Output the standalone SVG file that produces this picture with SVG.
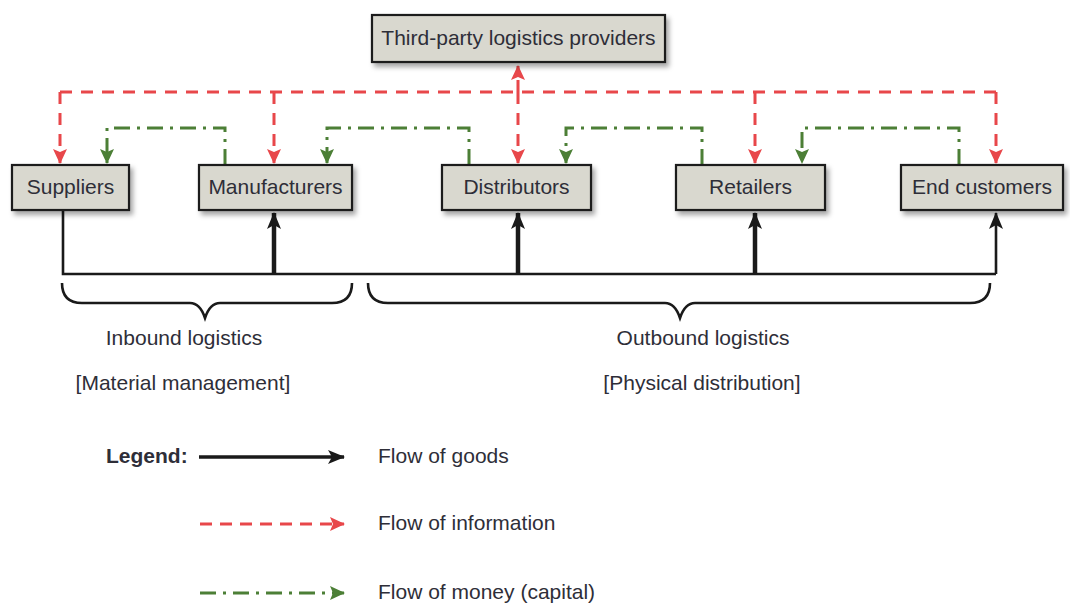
<svg xmlns="http://www.w3.org/2000/svg" width="1070" height="605" viewBox="0 0 1070 605">
<style>
.box{fill:#d9d8cf;stroke:#1e1e1e;stroke-width:2.2}
.t{font-family:"Liberation Sans",Arial,sans-serif;font-size:21px;fill:#2e2e38}
.nt{text-anchor:middle}
.red{fill:none;stroke:#e8474a;stroke-width:3;stroke-dasharray:12 9}
.grn{fill:none;stroke:#4c7f36;stroke-width:3;stroke-dasharray:16 7 3 7}
.blk{fill:none;stroke:#1a1a1a;stroke-width:2.6}
.blkT{fill:none;stroke:#1a1a1a;stroke-width:4.5}
.brace{fill:none;stroke:#1a1a1a;stroke-width:2.6}
</style>
<defs>
<filter id="sh" x="-10%" y="-20%" width="130%" height="160%">
<feDropShadow dx="3" dy="4" stdDeviation="2.5" flood-color="#000" flood-opacity="0.35"/>
</filter>
<marker id="ar" markerUnits="userSpaceOnUse" markerWidth="16" markerHeight="16" refX="14" refY="7" orient="auto">
<path d="M0,0 L15,7 L0,14 L3,7 Z" fill="#e8474a"/>
</marker>
<marker id="ag" markerUnits="userSpaceOnUse" markerWidth="16" markerHeight="16" refX="14" refY="7" orient="auto">
<path d="M0,0 L15,7 L0,14 L3,7 Z" fill="#4c7f36"/>
</marker>
<marker id="ab" markerUnits="userSpaceOnUse" markerWidth="18" markerHeight="16" refX="16" refY="7" orient="auto">
<path d="M0,0 L17,7 L0,14 L4,7 Z" fill="#1a1a1a"/>
</marker>
</defs>
<rect width="1070" height="605" fill="#ffffff"/>

<g id="connectors">
<path class="red" d="M60,92 H996"/>
<path class="red" d="M60,92 V163" marker-end="url(#ar)"/>
<path class="red" d="M274,92 V163" marker-end="url(#ar)"/>
<path class="red" d="M518,92 V163" marker-end="url(#ar)"/>
<path class="red" d="M518,92 V66" marker-end="url(#ar)"/>
<path class="red" d="M755,92 V163" marker-end="url(#ar)"/>
<path class="red" d="M996,92 V163" marker-end="url(#ar)"/>
<path class="grn" d="M225,165 V128 H107 V163" marker-end="url(#ag)"/>
<path class="grn" d="M469,165 V128 H327 V163" marker-end="url(#ag)"/>
<path class="grn" d="M702,165 V128 H566 V163" marker-end="url(#ag)"/>
<path class="grn" d="M959,165 V128 H802 V163" marker-end="url(#ag)"/>
<path class="blk" d="M63,211 V274 H996"/>
<path class="blkT" d="M274,274 V213" marker-end="url(#ab)"/>
<path class="blkT" d="M518,274 V213" marker-end="url(#ab)"/>
<path class="blkT" d="M755,274 V213" marker-end="url(#ab)"/>
<path class="blk" d="M996,274 V213" marker-end="url(#ab)"/>
</g>

<g id="tpl">
<rect class="box" filter="url(#sh)" x="372" y="15" width="293" height="47"/>
<text class="t nt" x="518.5" y="45">Third-party logistics providers</text>
</g>
<g id="suppliers">
<rect class="box" filter="url(#sh)" x="12" y="165" width="117" height="45"/>
<text class="t nt" x="70.5" y="194">Suppliers</text>
</g>
<g id="manufacturers">
<rect class="box" filter="url(#sh)" x="199" y="165" width="153" height="45"/>
<text class="t nt" x="275.5" y="194">Manufacturers</text>
</g>
<g id="distributors">
<rect class="box" filter="url(#sh)" x="442" y="165" width="149" height="45"/>
<text class="t nt" x="516.5" y="194">Distributors</text>
</g>
<g id="retailers">
<rect class="box" filter="url(#sh)" x="676" y="165" width="149" height="45"/>
<text class="t nt" x="750.5" y="194">Retailers</text>
</g>
<g id="endcustomers">
<rect class="box" filter="url(#sh)" x="901" y="165" width="162" height="45"/>
<text class="t nt" x="982" y="194">End customers</text>
</g>

<g id="inbound">
<path class="brace" d="M62,283 Q62,303 82,303 H190 Q200,303 205,318 Q210,303 220,303 H332 Q352,303 352,283"/>
<text class="t nt" x="184" y="345">Inbound logistics</text>
<text class="t nt" x="183" y="390">[Material management]</text>
</g>
<g id="outbound">
<path class="brace" d="M368,283 Q368,303 388,303 H665 Q675,303 680,318 Q685,303 695,303 H970 Q990,303 990,283"/>
<text class="t nt" x="703" y="345">Outbound logistics</text>
<text class="t nt" x="702" y="390">[Physical distribution]</text>
</g>

<g id="legend">
<text class="t" x="106" y="463" font-weight="bold">Legend:</text>
<path d="M199,457 H344" fill="none" stroke="#1a1a1a" stroke-width="3.5" marker-end="url(#ab)"/>
<text class="t" x="378" y="463">Flow of goods</text>
<path d="M200,524 H344" fill="none" stroke="#e8474a" stroke-width="3" stroke-dasharray="12 8" marker-end="url(#ar)"/>
<text class="t" x="378" y="530">Flow of information</text>
<path d="M200,593 H344" fill="none" stroke="#4c7f36" stroke-width="3" stroke-dasharray="16 7 3 7" marker-end="url(#ag)"/>
<text class="t" x="378" y="599">Flow of money (capital)</text>
</g>
</svg>
